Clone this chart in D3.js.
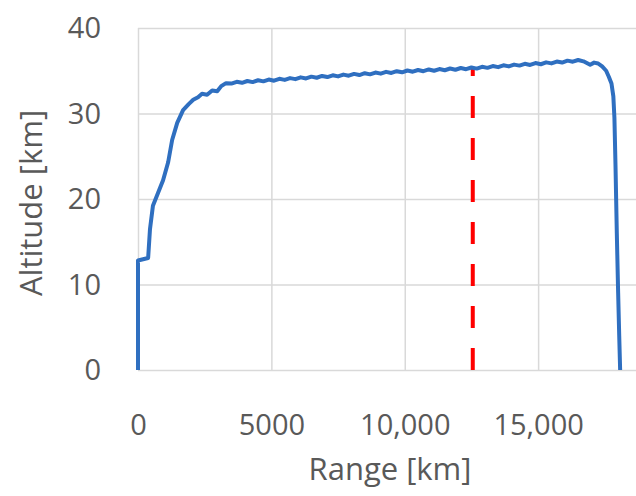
<!DOCTYPE html>
<html lang="en">

<head>
    <meta charset="UTF-8">
    <title>Altitude vs Range</title>
    <script src="https://d3js.org/d3.v7.min.js"></script>
    <style>
        body {
            margin: 0;
            background: #fff;
        }

        text {
            font-family: "Open Sans", sans-serif;
            fill: #595959;
        }

        .grid line {
            stroke: #d9d9d9;
            stroke-width: 1.5px;
        }
    </style>
</head>

<body>
    <svg width="636" height="496"></svg>

    <script>
        // Tick values and labels
        const xTicks = [0, 5000, 10000, 15000];
        const xTickLabels = ["0", "5000", "10,000", "15,000"];
        const yTicks = [0, 10, 20, 30, 40];
        const yTickLabels = ["0", "10", "20", "30", "40"];

        // Trajectory: range [km] and altitude [km]
        const rangeKm = [
            0, 0, 380, 450, 560, 750, 940, 1130, 1280, 1470, 1690, 1900, 2070, 2250, 2400, 2590, 2780, 2970, 3120,
            3300, 3500, 3700, 3900, 4100, 4300, 4500, 4700, 4900, 5100, 5300, 5500, 5700, 5900,
            6100, 6300, 6500, 6700, 6900, 7100, 7300, 7500, 7700, 7900, 8100, 8300, 8500, 8700, 8900,
            9100, 9300, 9500, 9700, 9900, 10100, 10300, 10500, 10700, 10900, 11100, 11300, 11500, 11700, 11900,
            12100, 12300, 12500, 12700, 12900, 13100, 13300, 13500, 13700, 13900, 14100, 14300, 14500, 14700, 14900,
            15100, 15300, 15500, 15700, 15900, 16100, 16300, 16500,
            16700, 16950, 17100, 17250, 17400, 17550, 17650, 17750, 17820, 17860, 17900, 17950, 18000, 18040, 18075
        ];
        const altitudeKm = [
            0, 12.8, 13.1, 16.5, 19.2, 20.7, 22.2, 24.3, 26.9, 28.9, 30.4, 31.1, 31.6, 31.9, 32.3, 32.2, 32.7, 32.6, 33.2,
            33.55, 33.50, 33.71, 33.59, 33.80, 33.67, 33.89, 33.76, 33.97, 33.84, 34.06, 33.93, 34.14, 34.02,
            34.23, 34.10, 34.31, 34.18, 34.39, 34.26, 34.47, 34.34, 34.55, 34.42, 34.63, 34.50, 34.71, 34.58, 34.79,
            34.66, 34.87, 34.74, 34.95, 34.82, 35.03, 34.89, 35.09, 34.95, 35.15, 35.00, 35.20, 35.06, 35.26, 35.12,
            35.32, 35.18, 35.38, 35.25, 35.46, 35.34, 35.55, 35.42, 35.64, 35.51, 35.72, 35.60, 35.81, 35.68, 35.90,
            35.76, 35.98, 35.86, 36.08, 35.96, 36.18, 36.06, 36.26,
            36.1, 35.7, 35.95, 35.85, 35.5, 35.0, 34.3, 33.5, 32.0, 29.5, 24.0, 16.0, 9.0, 4.0, 0
        ];

        // Red dashed marker
        const markerRange = 12550;
        const markerAltitude = 35.3;

        const width = 636;
        const height = 496;
        const margin = { left: 138, top: 28, bottom: 370 };

        const svg = d3.select("svg");

        const x = d3.scaleLinear().domain([0, 20000]).range([margin.left, 671.5]);
        const y = d3.scaleLinear().domain([0, 40]).range([margin.bottom, margin.top]);

        // horizontal gridlines + y labels
        const yAxis = svg.append("g")
            .attr("class", "grid")
            .attr("transform", `translate(${margin.left},0)`)
            .call(d3.axisLeft(y)
                .tickValues(yTicks)
                .tickFormat((d, i) => yTickLabels[i])
                .tickSize(-(width - margin.left))
                .tickPadding(37));
        yAxis.select(".domain").remove();
        yAxis.selectAll("text")
            .attr("font-size", 29)
            .attr("fill", "#595959")
            .attr("dy", "0.34em")
            .style("font-family", "'Open Sans', sans-serif");

        // vertical gridlines + x labels
        const xAxis = svg.append("g")
            .attr("class", "grid")
            .attr("transform", `translate(0,${margin.bottom})`)
            .call(d3.axisBottom(x)
                .tickValues(xTicks)
                .tickFormat((d, i) => xTickLabels[i])
                .tickSize(-(margin.bottom - margin.top))
                .tickPadding(0));
        xAxis.select(".domain").remove();
        xAxis.selectAll("text")
            .attr("font-size", 29)
            .attr("fill", "#595959")
            .attr("y", 65)
            .attr("dy", 0)
            .style("font-family", "'Open Sans', sans-serif");

        // axis titles
        svg.append("text")
            .attr("x", 390)
            .attr("y", 480)
            .attr("text-anchor", "middle")
            .attr("font-size", 31)
            .text("Range [km]");

        svg.append("text")
            .attr("transform", "translate(42,203) rotate(-90)")
            .attr("text-anchor", "middle")
            .attr("font-size", 31)
            .text("Altitude [km]");

        // red dashed line
        svg.append("line")
            .attr("x1", x(markerRange))
            .attr("x2", x(markerRange))
            .attr("y1", y(0))
            .attr("y2", y(markerAltitude))
            .attr("stroke", "#ff0000")
            .attr("stroke-width", 4)
            .attr("stroke-dasharray", "22,20");

        // trajectory
        const points = rangeKm.map((r, i) => [r, altitudeKm[i]]);
        const line = d3.line()
            .x(d => x(d[0]))
            .y(d => y(d[1]))
            .curve(d3.curveLinear);

        svg.append("path")
            .datum(points)
            .attr("d", line)
            .attr("fill", "none")
            .attr("stroke", "#2f6fc0")
            .attr("stroke-width", 4)
            .attr("stroke-linejoin", "round");
    </script>
</body>

</html>
